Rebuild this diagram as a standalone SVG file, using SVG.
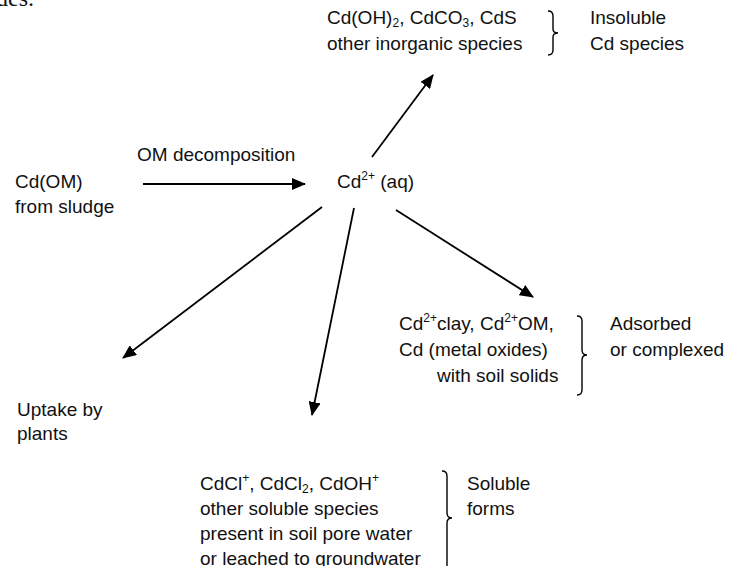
<svg xmlns="http://www.w3.org/2000/svg" width="733" height="566" viewBox="0 0 733 566">
<defs>
<marker id="ah" viewBox="0 0 14 12" refX="13" refY="6" markerWidth="14" markerHeight="12" markerUnits="userSpaceOnUse" orient="auto">
<path d="M0,0 L14,6 L0,12 Z" fill="#000"/>
</marker>
<style>
text{font-family:"Liberation Sans",Arial,sans-serif;font-size:19px;fill:#111}
.sm{font-size:12px}
.ln{stroke:#000;stroke-width:1.8;fill:none}
.br{stroke:#000;stroke-width:1.4;fill:none}
</style>
</defs>
<rect width="733" height="566" fill="#fff"/>
<text x="-4" y="6" style="font-family:'Liberation Serif',serif;font-size:24px">des.</text>

<g id="cdom">
<text x="15" y="188">Cd(OM)</text>
<text x="15" y="213">from sludge</text>
</g>
<g id="cdaq">
<text x="337" y="188">Cd<tspan class="sm" dy="-8">2+</tspan><tspan dy="8"> (aq)</tspan></text>
</g>
<g id="insoluble">
<text x="327" y="24">Cd(OH)<tspan class="sm" dy="3">2</tspan><tspan dy="-3">, CdCO</tspan><tspan class="sm" dy="3">3</tspan><tspan dy="-3">, CdS</tspan></text>
<text x="327" y="50">other inorganic species</text>
<path class="br" d="M548,11 Q553,11 553,16 L553,29 Q553,33 558,33 Q553,33 553,37 L553,50 Q553,55 548,55"/>
<text x="590" y="24">Insoluble</text>
<text x="590" y="50">Cd species</text>
</g>
<g id="adsorbed">
<text x="399" y="330">Cd<tspan class="sm" dy="-8">2+</tspan><tspan dy="8">clay, Cd</tspan><tspan class="sm" dy="-8">2+</tspan><tspan dy="8">OM,</tspan></text>
<text x="399" y="356">Cd (metal oxides)</text>
<text x="437" y="382">with soil solids</text>
<path class="br" d="M577,316 Q582,316 582,321 L582,350 Q582,355 587,355 Q582,355 582,360 L582,390 Q582,395 577,395"/>
<text x="610" y="330">Adsorbed</text>
<text x="610" y="356">or complexed</text>
</g>
<g id="uptake">
<text x="17" y="416">Uptake by</text>
<text x="17" y="440">plants</text>
</g>
<g id="soluble">
<text x="200" y="490">CdCl<tspan class="sm" dy="-8">+</tspan><tspan dy="8">, CdCl</tspan><tspan class="sm" dy="3">2</tspan><tspan dy="-3">, CdOH</tspan><tspan class="sm" dy="-8">+</tspan></text>
<text x="200" y="515">other soluble species</text>
<text x="200" y="540">present in soil pore water</text>
<text x="200" y="565">or leached to groundwater</text>
<path class="br" d="M442,471 Q447,471 447,476 L447,513 Q447,518 452,518 Q447,518 447,523 L447,566"/>
<text x="467" y="490">Soluble</text>
<text x="467" y="515">forms</text>
</g>

<g id="connectors">
<line class="ln" x1="143" y1="184" x2="305" y2="184" marker-end="url(#ah)"/>
<text x="137" y="161">OM decomposition</text>
<line class="ln" x1="372" y1="157" x2="433" y2="75" marker-end="url(#ah)"/>
<line class="ln" x1="322" y1="207" x2="123" y2="358" marker-end="url(#ah)"/>
<line class="ln" x1="354" y1="208" x2="312" y2="415" marker-end="url(#ah)"/>
<line class="ln" x1="396" y1="210" x2="533" y2="297" marker-end="url(#ah)"/>
</g>
</svg>
